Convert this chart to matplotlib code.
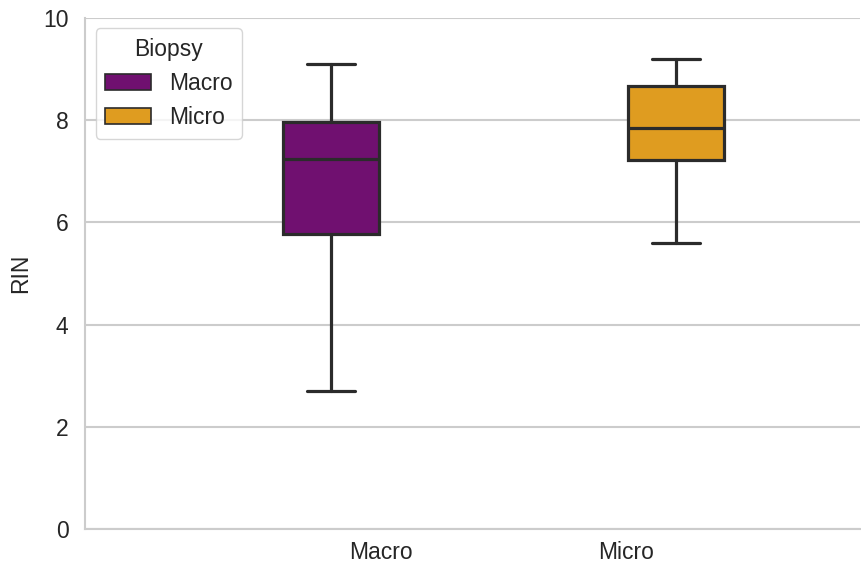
import matplotlib
matplotlib.use("Agg")
import matplotlib.pyplot as plt
from matplotlib.patches import Patch
import seaborn as sns

# RIN summary per biopsy type
groups = ["Macro", "Micro"]
whisker_low = [2.7, 5.6]
q1 = [5.77, 7.23]
median = [7.25, 7.85]
q3 = [7.96, 8.68]
whisker_high = [9.1, 9.2]

sns.set_theme(style="whitegrid")
plt.rcParams['font.family'] = ['Liberation Sans', 'DejaVu Sans']

palette = [sns.desaturate(c, 0.75) for c in ["purple", "orange"]]
edge = "#2b2b2b"
fs = 16.5

fig = plt.figure(figsize=(8.61, 5.65), dpi=100)
ax = fig.add_axes([0.099, 0.064, 0.90, 0.904])

stats = []
for i, g in enumerate(groups):
    stats.append(dict(label=g, whislo=whisker_low[i], q1=q1[i], med=median[i],
                      q3=q3[i], whishi=whisker_high[i], fliers=[]))

# hue dodge: each box sits 0.2 off its category
positions = [i + (-0.2 if i == 0 else 0.2) for i in range(len(groups))]
bp = ax.bxp(stats, positions=positions, widths=0.39, patch_artist=True,
            showfliers=False, manage_ticks=False,
            boxprops=dict(edgecolor=edge, linewidth=2.3),
            medianprops=dict(color=edge, linewidth=2.3),
            whiskerprops=dict(color=edge, linewidth=2.3),
            capprops=dict(color=edge, linewidth=2.3))
for patch, c in zip(bp["boxes"], palette):
    patch.set_facecolor(c)

ax.set_xticks(range(len(groups)))
ax.set_xticklabels(groups, fontsize=fs)
ax.set_xlim(-1.2, 1.95)
ax.set_ylim(0, 10)
ax.set_yticks([0, 2, 4, 6, 8, 10])
ax.tick_params(axis="y", labelsize=fs, pad=6)
ax.tick_params(axis="x", pad=3)
ax.set_ylabel("RIN", fontsize=fs, labelpad=8)
ax.grid(axis="x", visible=False)
ax.grid(axis="y", color="0.8", linewidth=1.5)
ax.set_axisbelow(True)
sns.despine(ax=ax)
for s in ["left", "bottom"]:
    ax.spines[s].set_color("0.8")
    ax.spines[s].set_linewidth(1.5)

handles = [Patch(facecolor=c, edgecolor=edge, linewidth=1.2, label=g)
           for g, c in zip(groups, palette)]
ax.legend(handles=handles, title="Biopsy", loc="upper left", fontsize=fs,
          title_fontsize=fs, frameon=True, labelspacing=0.5,
          borderaxespad=0.45)

fig.savefig("out.png", dpi=100)
